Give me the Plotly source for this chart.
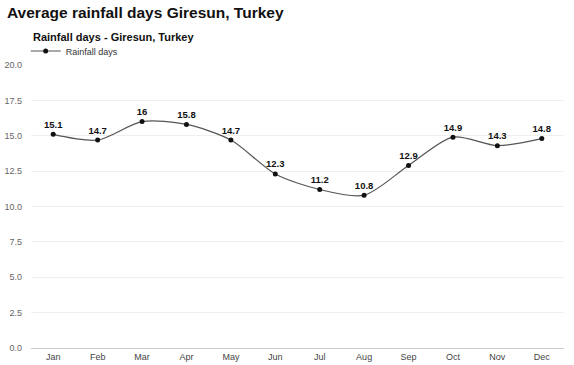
import plotly.graph_objects as go

months = ["Jan", "Feb", "Mar", "Apr", "May", "Jun", "Jul", "Aug", "Sep", "Oct", "Nov", "Dec"]
rain_days = [15.1, 14.7, 16, 15.8, 14.7, 12.3, 11.2, 10.8, 12.9, 14.9, 14.3, 14.8]
y_ticks = [0, 2.5, 5, 7.5, 10, 12.5, 15, 17.5, 20]

W, H = 574, 365
ML, MR, MT, MB = 31, 10, 65, 17
pw = W - ML - MR
ph = H - MT - MB

fig = go.Figure()
fig.add_trace(go.Scatter(
    x=months, y=rain_days, name="Rainfall days",
    mode="lines+markers+text",
    line=dict(shape="spline", smoothing=0.8, color="#555555", width=1.2),
    marker=dict(color="#111111", size=5),
    text=[f"{v:g}" for v in rain_days],
    textposition="top center",
    textfont=dict(family="Liberation Sans, Arial", size=9.5, color="#111111", weight="bold"),
    cliponaxis=False,
))

fig.update_layout(
    width=W, height=H,
    margin=dict(l=ML, r=MR, t=MT, b=MB),
    paper_bgcolor="white", plot_bgcolor="white",
    font=dict(family="Liberation Sans, Arial", size=9, color="#555555"),
    showlegend=True,
    legend=dict(x=-0.01, y=(H - MB - 51) / ph, xanchor="left", yanchor="middle", orientation="h",
                font=dict(size=9, color="#333333"), bgcolor="rgba(0,0,0,0)"),
    xaxis=dict(range=[-0.5, len(months) - 0.5], showgrid=False, showline=True,
               linecolor="#cccccc", linewidth=1,
               ticks="", tickfont=dict(size=9, color="#444444"), automargin=False),
    yaxis=dict(range=[0, 20], tickvals=y_ticks, tickformat=".1f",
               gridcolor="#efefef", gridwidth=1, zeroline=False, automargin=False,
               tickfont=dict(size=9, color="#666666"), ticks="", ticklabelstandoff=8),
)
fig.add_annotation(text="<b>Average rainfall days Giresun, Turkey</b>", xref="paper", yref="paper",
                   x=(5 - ML) / pw, y=(H - MB - 12) / ph, xanchor="left", yanchor="middle",
                   showarrow=False, font=dict(size=15.5, color="#111111"))
fig.add_annotation(text="<b>Rainfall days - Giresun, Turkey</b>", xref="paper", yref="paper",
                   x=0, y=(H - MB - 37) / ph, xanchor="left", yanchor="middle",
                   showarrow=False, font=dict(size=11, color="#111111"))

fig.write_html("out.html")
